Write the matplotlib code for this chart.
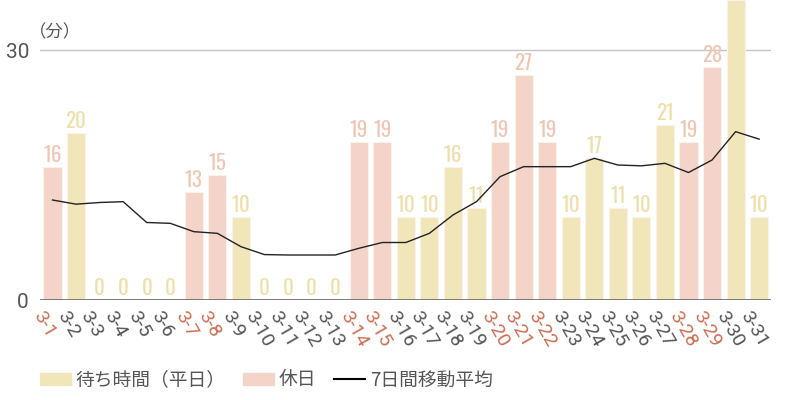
import matplotlib
matplotlib.use("Agg")
import matplotlib.pyplot as plt
from matplotlib.patches import Patch
from matplotlib.lines import Line2D

plt.rcParams['font.family'] = ['Noto Sans CJK JP', 'DejaVu Sans']

# data (3月, minutes)
dates = ['3-%d' % d for d in range(1, 32)]
wait = [16, 20, 0, 0, 0, 0, 13, 15, 10, 0, 0, 0, 0, 19, 19, 10,
        10, 16, 11, 19, 27, 19, 10, 17, 11, 10, 21, 19, 28, 36, 10]
holiday = [1, 0, 0, 0, 0, 0, 1, 1, 0, 0, 0, 0, 0, 1, 1, 0,
           0, 0, 0, 1, 1, 1, 0, 0, 0, 0, 0, 1, 1, 0, 0]
avg7 = [12.0, 11.5, 11.7, 11.8, 9.3, 9.2, 8.2, 8.0, 6.4, 5.45, 5.4, 5.4, 5.4,
        6.2, 6.9, 6.9, 8.0, 10.2, 11.8, 14.8, 16.0, 16.0, 16.0, 17.0, 16.2,
        16.1, 16.4, 15.3, 16.8, 20.2, 19.3]
show_label = [True] * 29 + [False, True]  # 3-30 label is above the frame

c_week = '#F1E6B9'
c_hol = '#F4D4C8'
c_week_txt = '#EEDFA8'
c_hol_txt = '#F0C6B3'
c_gray = '#555555'
c_red = '#CC6E52'

fig = plt.figure(figsize=(8, 4), dpi=100)
ax = fig.add_axes([0.05, 0.25, 0.914, 0.75])

x = list(range(len(dates)))
cols = [c_hol if h else c_week for h in holiday]
ax.bar(x, wait, width=0.77, color=cols, edgecolor='#FBF3EA', linewidth=0.8, zorder=2)

for i, v in enumerate(wait):
    if not show_label[i]:
        continue
    tc = c_hol_txt if holiday[i] else c_week_txt
    ax.annotate(str(v), (i, v), xytext=(0, 1.5), textcoords='offset points',
                ha='center', va='bottom', fontsize=15, color=tc,
                family=['Oswald', 'DejaVu Sans'], zorder=3)

ax.plot(x, avg7, color='#222222', lw=1.0, zorder=4)

ax.set_xlim(-0.53, 30.51)
ax.set_ylim(0, 36)
ax.axhline(30, color='#c4c4c4', lw=1, zorder=1)
ax.axhline(0, color='#666666', lw=1.2, zorder=5)

for s in ax.spines.values():
    s.set_visible(False)
ax.set_yticks([0, 30])
ax.set_yticklabels(['0', '30'], fontsize=15, color=c_gray,
                   family=['Roboto', 'DejaVu Sans'])
ax.tick_params(axis='y', length=0, pad=8)
ax.set_xticks(x)
ax.set_xticklabels([])
ax.tick_params(axis='x', length=0)

for i, d in enumerate(dates):
    ax.annotate(d, (i, 0), xytext=(-5, -6), textcoords='offset points',
                ha='left', va='top', rotation=-60, rotation_mode='anchor',
                fontsize=14, color=c_red if holiday[i] else c_gray,
                family=['Roboto', 'DejaVu Sans'], annotation_clip=False)

ax.annotate('（分）', (-0.53, 30), xytext=(-8, 6), textcoords='offset points',
            fontsize=12.5, color=c_gray, ha='left', va='bottom', annotation_clip=False)

handles = [Patch(color=c_week), Patch(color=c_hol), Line2D([], [], color='black', lw=1.5)]
labels = ['待ち時間（平日）', '休日', '7日間移動平均']
fig.legend(handles, labels, loc='center left', bbox_to_anchor=(0.05, 0.05), ncol=3,
           frameon=False, fontsize=13.5, handlelength=1.65, handleheight=0.6,
           handletextpad=0.25, columnspacing=0.95, labelcolor=c_gray,
           borderpad=0, borderaxespad=0)

fig.savefig('out.png', dpi=100)
